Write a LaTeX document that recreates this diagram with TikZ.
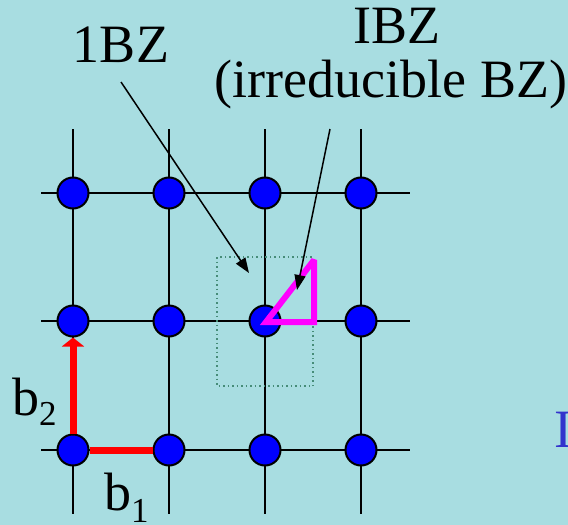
\documentclass[tikz,border=0pt]{standalone}
\usepackage{fontspec}
\setmainfont{Liberation Serif}
\usetikzlibrary{arrows.meta}

\definecolor{bgcyan}{RGB}{168,221,225}
\definecolor{zonegreen}{RGB}{70,140,120}
\definecolor{labelblue}{RGB}{51,51,204}
\definecolor{wedge}{RGB}{255,0,255}
\definecolor{vecred}{RGB}{255,0,0}
\definecolor{dotblue}{RGB}{0,0,255}

\begin{document}
\begin{tikzpicture}[
    x=1pt, y=-1pt,
    dot/.style={circle, draw=black, line width=2pt, fill=dotblue, minimum size=31pt, inner sep=0pt},
    gridline/.style={line width=2pt},
    vec/.style={vecred, line width=7pt},
    ptr/.style={-{Triangle[length=15pt,width=11pt]}, line width=1.5pt},
    big/.style={font=\fontsize{54}{60}\selectfont, inner sep=0pt, anchor=base}
]
\fill[bgcyan] (0,0) rectangle (568,525);
\useasboundingbox (0,0) rectangle (568,525);

% reciprocal lattice
\foreach \x in {73,169,265,361}
  \draw[gridline] (\x,129) -- (\x,514);
\foreach \y in {193,321,450}
  \draw[gridline] (41,\y) -- (410,\y);
\draw[zonegreen, line width=1.5pt, dash pattern=on 1.5pt off 3pt] (217,257) rectangle (313,386);
\foreach [count=\i from 0] \x in {73,169,265,361}
  \foreach [count=\j from 0] \y in {450,321,193}
    \node[dot] (k\i\j) at (\x,\y) {};

% irreducible wedge
\draw[wedge, line width=6pt, miter limit=2.5] (266,322) -- (314,322) -- (314,260) -- cycle;

% basis vectors
\draw[vec] (k00) -- (k10);
\draw[vec, -{Triangle[length=9pt,width=22pt]}] (k00) -- (k01);

% labels
\node[big] (bz1) at (121,62) {1BZ};
\node[big] (ibz) at (397,43) {IBZ};
\node[big] (irr) at (391,97) {(irreducible BZ)};
\node[big, anchor=base west] (lb2) at (12,415) {b\raisebox{-10pt}{\fontsize{35}{35}\selectfont 2}};
\node[big, anchor=base west] (lb1) at (104,510) {b\raisebox{-12pt}{\fontsize{35}{35}\selectfont 1}};
\node[big, anchor=base west, text=labelblue] (gam) at (554,447) {I};

\coordinate (tailA) at (121,82);
\coordinate (headA) at (249,273);
\coordinate (tailB) at (330,129);
\coordinate (headB) at (297,290);
\draw[ptr] (tailA) -- (headA);
\draw[ptr] (tailB) -- (headB);
\end{tikzpicture}
\end{document}
